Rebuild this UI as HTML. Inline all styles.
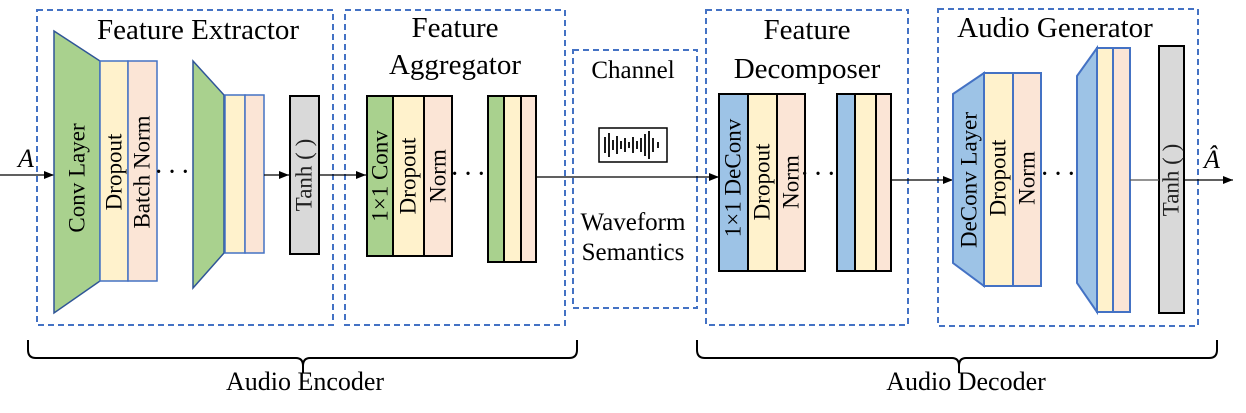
<!DOCTYPE html>
<html><head><meta charset="utf-8"><style>html,body{margin:0;padding:0;background:#fff}svg{display:block}</style></head><body>
<svg width="1246" height="413" viewBox="0 0 1246 413" xmlns="http://www.w3.org/2000/svg" font-family="'Liberation Serif', serif">
<defs><marker id="ah" markerWidth="10" markerHeight="8" refX="10" refY="4" orient="auto" markerUnits="userSpaceOnUse"><path d="M0,0 L10,4 L0,8 z" fill="#000"/></marker></defs>
<g fill="none" stroke="#4472c4" stroke-width="2" stroke-dasharray="6 4">
<rect x="37" y="10" width="296" height="315"/>
<rect x="345" y="10" width="220" height="315"/>
<rect x="573" y="50" width="124" height="258"/>
<rect x="706" y="10" width="202" height="315"/>
<rect x="938" y="9" width="260" height="317"/>
</g>
<g font-size="29" text-anchor="middle" fill="#000">
<text x="198" y="39">Feature Extractor</text>
<text x="455" y="37">Feature</text>
<text x="455" y="74">Aggregator</text>
<text x="807" y="39">Feature</text>
<text x="807" y="78">Decomposer</text>
<text x="1055" y="37">Audio Generator</text>
<text x="633" y="78" font-size="25">Channel</text>
<text x="633" y="230" font-size="25">Waveform</text>
<text x="633" y="260" font-size="25">Semantics</text>
</g>
<line x1="0" y1="175" x2="54" y2="175" stroke="#000" stroke-width="1.3" marker-end="url(#ah)"/>
<text x="26" y="167" font-size="26" font-style="italic" text-anchor="middle">A</text>
<g stroke="#2f5597" stroke-width="1.5">
<polygon points="54,31 100,61 100,281 54,313" fill="#a9d18e"/>
<rect x="100" y="61" width="28" height="220" fill="#fff2cc" stroke="#4472c4"/>
<rect x="128" y="61" width="29" height="220" fill="#fbe5d6" stroke="#4472c4"/>
<polygon points="193,61 224,95 224,253 193,288" fill="#a9d18e"/>
<rect x="225" y="95" width="20" height="158" fill="#fff2cc" stroke="#4472c4"/>
<rect x="245" y="95" width="19" height="158" fill="#fbe5d6" stroke="#4472c4"/>
</g>
<rect x="290" y="96" width="29" height="158" fill="#d9d9d9" stroke="#000" stroke-width="2"/>
<line x1="264" y1="175" x2="289" y2="175" stroke="#000" stroke-width="1.3" marker-end="url(#ah)"/>
<line x1="319" y1="175" x2="366" y2="175" stroke="#000" stroke-width="1.3" marker-end="url(#ah)"/>
<g font-size="23" text-anchor="middle" dominant-baseline="central">
<text transform="translate(77,178) rotate(-90)">Conv  Layer</text>
<text transform="translate(114,172) rotate(-90)">Dropout</text>
<text transform="translate(142,172) rotate(-90)">Batch Norm</text>
<text transform="translate(304,175) rotate(-90)" fill="#222">Tanh ( )</text>
</g>
<text x="174" y="181" font-size="28" text-anchor="middle" letter-spacing="4">···</text>
<g stroke="#000" stroke-width="2">
<rect x="367" y="96" width="26" height="160" fill="#a9d18e"/>
<rect x="393" y="96" width="31" height="160" fill="#fff2cc"/>
<rect x="424" y="96" width="28" height="160" fill="#fbe5d6"/>
<rect x="488" y="96" width="16" height="166" fill="#a9d18e"/>
<rect x="504" y="96" width="17" height="166" fill="#fff2cc"/>
<rect x="521" y="96" width="15" height="166" fill="#fbe5d6"/>
</g>
<g font-size="23" text-anchor="middle" dominant-baseline="central">
<text transform="translate(380,176) rotate(-90)">1×1 Conv</text>
<text transform="translate(408,176) rotate(-90)">Dropout</text>
<text transform="translate(438,176) rotate(-90)">Norm</text>
</g>
<text x="470" y="183" font-size="28" text-anchor="middle" letter-spacing="4">···</text>
<line x1="536" y1="177" x2="719" y2="177" stroke="#000" stroke-width="1.3" marker-end="url(#ah)"/>
<rect x="599" y="128" width="68" height="34" fill="#fff" stroke="#000" stroke-width="1.5"/>
<g stroke="#000" stroke-width="1.8">
<line x1="605" y1="137" x2="605" y2="153"/><line x1="609" y1="133" x2="609" y2="157"/>
<line x1="613" y1="140" x2="613" y2="150"/><line x1="617" y1="136" x2="617" y2="154"/>
<line x1="621" y1="141" x2="621" y2="149"/><line x1="625" y1="138" x2="625" y2="152"/>
<line x1="629" y1="142" x2="629" y2="148"/><line x1="633" y1="137" x2="633" y2="153"/>
<line x1="637" y1="141" x2="637" y2="149"/><line x1="641" y1="138" x2="641" y2="152"/>
<line x1="645" y1="134" x2="645" y2="156"/><line x1="649" y1="131" x2="649" y2="159"/>
<line x1="653" y1="138" x2="653" y2="152"/><line x1="658" y1="142" x2="658" y2="148"/>
</g>
<g stroke="#000" stroke-width="2">
<rect x="719" y="94" width="29" height="177" fill="#9dc3e6"/>
<rect x="748" y="94" width="29" height="177" fill="#fff2cc"/>
<rect x="777" y="94" width="28" height="177" fill="#fbe5d6"/>
<rect x="837" y="94" width="18" height="177" fill="#9dc3e6"/>
<rect x="855" y="94" width="21" height="177" fill="#fff2cc"/>
<rect x="876" y="94" width="15" height="177" fill="#fbe5d6"/>
</g>
<g font-size="23" text-anchor="middle" dominant-baseline="central">
<text transform="translate(733,178) rotate(-90)">1×1 DeConv</text>
<text transform="translate(762,182) rotate(-90)">Dropout</text>
<text transform="translate(791,182) rotate(-90)">Norm</text>
</g>
<text x="820" y="183" font-size="28" text-anchor="middle" letter-spacing="4">···</text>
<line x1="891" y1="180" x2="953" y2="180" stroke="#000" stroke-width="1.3" marker-end="url(#ah)"/>
<g stroke="#4472c4" stroke-width="2">
<polygon points="953,94 984,73 984,286 953,263" fill="#9dc3e6"/>
<rect x="984" y="73" width="29" height="213" fill="#fff2cc"/>
<rect x="1013" y="73" width="28" height="213" fill="#fbe5d6"/>
<polygon points="1077,76 1097,48 1097,312 1077,283" fill="#9dc3e6"/>
<rect x="1097" y="48" width="16" height="264" fill="#fff2cc"/>
<rect x="1113" y="48" width="17" height="264" fill="#fbe5d6"/>
</g>
<rect x="1159" y="46" width="25" height="267" fill="#d9d9d9" stroke="#000" stroke-width="2"/>
<g font-size="23" text-anchor="middle" dominant-baseline="central">
<text transform="translate(969,180) rotate(-90)">DeConv  Layer</text>
<text transform="translate(998,178) rotate(-90)">Dropout</text>
<text transform="translate(1027,178) rotate(-90)">Norm</text>
<text transform="translate(1171,180) rotate(-90)" fill="#222">Tanh ( )</text>
</g>
<text x="1060" y="183" font-size="28" text-anchor="middle" letter-spacing="4">···</text>
<line x1="1130" y1="180" x2="1159" y2="180" stroke="#555" stroke-width="1.3"/>
<line x1="1184" y1="180" x2="1233" y2="180" stroke="#000" stroke-width="1.3" marker-end="url(#ah)"/>
<text x="1212" y="168" font-size="26" font-style="italic" text-anchor="middle">Â</text>
<g fill="none" stroke="#000" stroke-width="2">
<path d="M28,340 L28,350 Q28,358 36,358 L296,358 Q303,358 303,366 L303,373 M303,366 Q303,358 310,358 L569,358 Q577,358 577,350 L577,340"/>
<path d="M697,340 L697,350 Q697,358 705,358 L952,358 Q959,358 959,366 L959,373 M959,366 Q959,358 966,358 L1209,358 Q1217,358 1217,350 L1217,340"/>
</g>
<g font-size="26" text-anchor="middle">
<text x="305" y="390">Audio Encoder</text>
<text x="966" y="390">Audio Decoder</text>
</g>
</svg>
</body></html>
